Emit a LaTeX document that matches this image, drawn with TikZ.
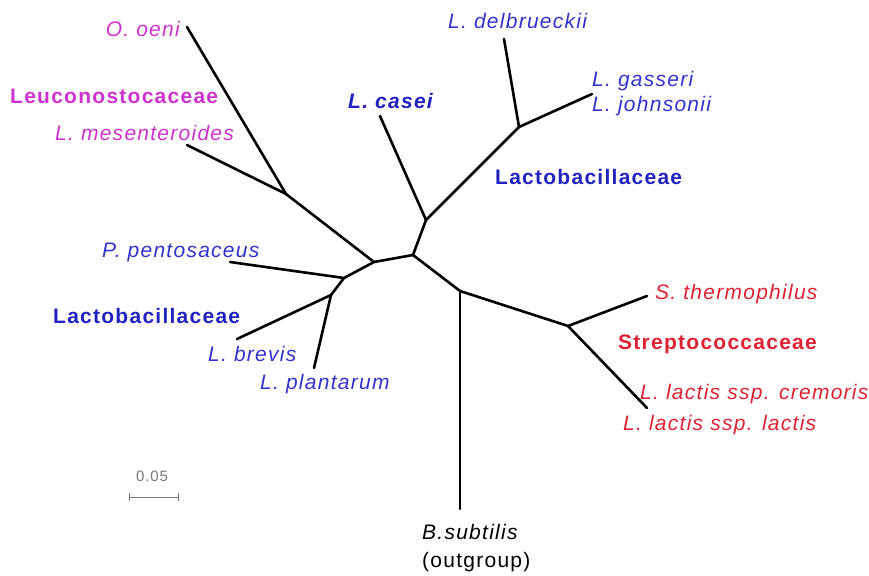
\documentclass[tikz,border=0pt]{standalone}
\usepackage{fontspec}
\setmainfont{Liberation Sans}[LetterSpace=6]
\definecolor{mag}{RGB}{204,51,204}
\definecolor{blu}{RGB}{51,51,204}
\definecolor{dblu}{RGB}{34,34,190}
\definecolor{rd}{RGB}{221,34,51}
\definecolor{scalegray}{RGB}{120,120,120}
\tikzset{
  branch/.style={line width=2.6pt, line cap=round, black},
  lbl/.style={inner sep=0pt, anchor=base west, font=\fontsize{21}{25}\selectfont\itshape},
  fam/.style={inner sep=0pt, anchor=base west, font=\fontsize{21}{25}\selectfont\bfseries},
}
\begin{document}
\begin{tikzpicture}[x=1pt,y=-1pt]
\useasboundingbox (0,0) rectangle (869,575);
% tree coordinates
\coordinate (oeni) at (187,27);
\coordinate (mes) at (187,145);
\coordinate (jL) at (286,194);
\coordinate (c1) at (374,262);
\coordinate (c2) at (413,255);
\coordinate (jC) at (426,220);
\coordinate (casei) at (380,116);
\coordinate (jD) at (519,127);
\coordinate (delb) at (504,39);
\coordinate (gass) at (592,94);
\coordinate (jP) at (344,278);
\coordinate (pent) at (230,262);
\coordinate (jB) at (331,295);
\coordinate (brev) at (237,339);
\coordinate (plant) at (314,368);
\coordinate (jS) at (460,291);
\coordinate (bsub) at (460,509);
\coordinate (jStr) at (568,326);
\coordinate (therm) at (647,296);
\coordinate (lact) at (647,408);
% branches
\draw[branch] (oeni) -- (jL);
\draw[branch] (mes) -- (jL);
\draw[branch] (jL) -- (c1);
\draw[branch] (c1) -- (c2);
\draw[branch] (c2) -- (jC);
\draw[branch] (jC) -- (casei);
\draw[branch] (jC) -- (jD);
\draw[branch] (jD) -- (delb);
\draw[branch] (jD) -- (gass);
\draw[branch] (c1) -- (jP);
\draw[branch] (jP) -- (pent);
\draw[branch] (jP) -- (jB);
\draw[branch] (jB) -- (brev);
\draw[branch] (jB) -- (plant);
\draw[branch] (c2) -- (jS);
\draw[branch] (jS) -- (bsub);
\draw[branch] (jS) -- (jStr);
\draw[branch] (jStr) -- (therm);
\draw[branch] (jStr) -- (lact);
% labels
\node[lbl, mag, anchor=base east] (loeni) at (180,37) {O. oeni};
\node[fam, mag] (lleuc) at (10,104) {Leuconostocaceae};
\node[lbl, mag] (lmes) at (55,140) {L. mesenteroides};
\node[lbl, dblu, font=\fontsize{21}{25}\selectfont\bfseries\itshape] (lcasei) at (348,109) {L. casei};
\node[lbl, blu] (ldelb) at (448,29) {L. delbrueckii};
\node[lbl, blu] (lgass) at (592,87) {L. gasseri};
\node[lbl, blu] (ljohn) at (592,112) {L. johnsonii};
\node[fam, dblu] (llact1) at (495,184) {Lactobacillaceae};
\node[lbl, blu] (lpent) at (102,257) {P. pentosaceus};
\node[fam, dblu] (llact2) at (53,323) {Lactobacillaceae};
\node[lbl, blu] (lbrev) at (208,361) {L. brevis};
\node[lbl, blu] (lplant) at (260,389) {L. plantarum};
\node[lbl, rd] (ltherm) at (655,299) {S. thermophilus};
\node[fam, rd] (lstrep) at (618,349) {Streptococcaceae};
\node[lbl, rd] (lcrem) at (640,399) {L. lactis ssp. cremoris};
\node[lbl, rd] (llactis) at (623,430) {L. lactis ssp. lactis};
\node[lbl, black] (lbsub) at (422,539) {B.subtilis};
\node[lbl, black, font=\fontsize{21}{25}\selectfont] (lout) at (422,567) {(outgroup)};
% scale bar
\node[inner sep=0pt, anchor=base west, scalegray, font=\fontsize{15}{18}\selectfont] (lscale) at (136,481) {0.05};
\coordinate (sa) at (129,497);
\coordinate (sb) at (178,497);
\draw[scalegray, line width=1pt] (sa) -- (sb);
\draw[scalegray, line width=1pt] ([yshift=-4pt]sa) -- ([yshift=4pt]sa);
\draw[scalegray, line width=1pt] ([yshift=-4pt]sb) -- ([yshift=4pt]sb);
\end{tikzpicture}
\end{document}
